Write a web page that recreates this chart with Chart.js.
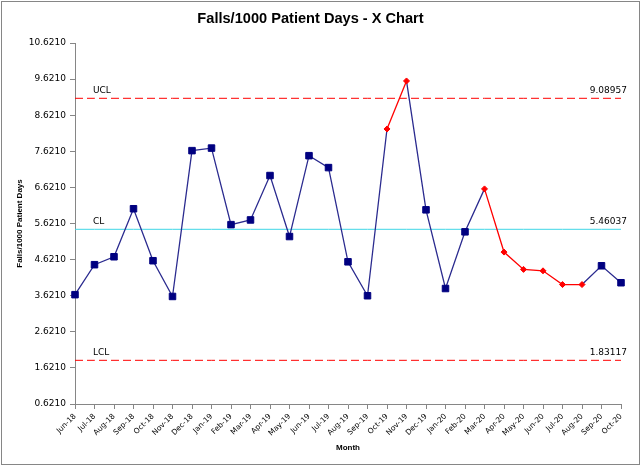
<!DOCTYPE html>
<html>
<head>
<meta charset="utf-8">
<script src="https://cdn.jsdelivr.net/npm/chart.js@4/dist/chart.umd.min.js"></script>
<style>
  html, body { margin: 0; padding: 0; background: #fff; }
  #wrap { width: 642px; height: 466px; position: relative; }
</style>
</head>
<body>
<div id="wrap"><canvas id="c" width="642" height="466"></canvas></div>
<script>
// ---- data ----
const months = ['Jun-18','Jul-18','Aug-18','Sep-18','Oct-18','Nov-18','Dec-18','Jan-19','Feb-19','Mar-19','Apr-19','May-19','Jun-19','Jul-19','Aug-19','Sep-19','Oct-19','Nov-19','Dec-19','Jan-20','Feb-20','Mar-20','Apr-20','May-20','Jun-20','Jul-20','Aug-20','Sep-20','Oct-20'];
const fallsRate = [3.65,4.48,4.70,6.03,4.59,3.60,7.64,7.71,5.59,5.72,6.95,5.26,7.50,7.17,4.56,3.62,8.24,9.57,6.00,3.82,5.39,6.58,4.83,4.35,4.31,3.93,3.93,4.45,3.98];
const signal = [0,0,0,0,0,0,0,0,0,0,0,0,0,0,0,0,1,1,0,0,0,1,1,1,1,1,1,0,0];
const ucl = 9.08957;
const cl = 5.46037;
const lcl = 1.83117;
const yTicks = [0.621,1.621,2.621,3.621,4.621,5.621,6.621,7.621,8.621,9.621,10.621];
const limitNames = ['UCL','CL','LCL'];
const limitValues = [ucl, cl, lcl];

// ---- styles ----
const NAVY = '#000080';
const LINE_NAVY = '#2b2b8f';
const RED = '#ff0000';
const CYAN = '#3fd6e6';
const AXIS = '#868686';
const TICK_FONT = { family: 'DejaVu Sans', size: 9 };
const XTICK_FONT = { family: 'DejaVu Sans', size: 7.5 };

const bgPlugin = {
  id: 'bg',
  beforeDraw(chart) {
    const ctx = chart.ctx;
    ctx.save();
    ctx.fillStyle = '#fff';
    ctx.fillRect(0, 0, chart.width, chart.height);
    ctx.restore();
  },
  afterDraw(chart) {
    const ctx = chart.ctx;
    ctx.save();
    ctx.strokeStyle = '#868686';
    ctx.lineWidth = 1;
    ctx.strokeRect(1.5, 1.5, 638, 463);
    ctx.restore();
  }
};

const limitLabels = {
  id: 'limitLabels',
  afterDatasetsDraw(chart) {
    const ctx = chart.ctx;
    const y = chart.scales.y;
    const area = chart.chartArea;
    ctx.save();
    ctx.font = '9px "DejaVu Sans"';
    ctx.fillStyle = '#000';
    ctx.textBaseline = 'alphabetic';
    limitNames.forEach((name, i) => {
      const py = y.getPixelForValue(limitValues[i]);
      ctx.textAlign = 'left';
      ctx.fillText(name, area.left + 18, py - 5);
      ctx.textAlign = 'right';
      ctx.fillText(limitValues[i].toFixed(5), area.right + 6, py - 5);
    });
    ctx.restore();
  }
};

const flat = v => months.map(() => v);

new Chart(document.getElementById('c'), {
  type: 'line',
  data: {
    labels: months,
    datasets: [
      {
        label: 'Falls/1000 Patient Days',
        data: fallsRate,
        borderColor: LINE_NAVY,
        borderWidth: 1.3,
        tension: 0,
        pointStyle: signal.map(s => s ? 'rectRot' : 'rect'),
        pointRadius: signal.map(s => s ? 3 : 4.6),
        pointBackgroundColor: signal.map(s => s ? RED : NAVY),
        pointBorderColor: signal.map(s => s ? RED : NAVY),
        pointBorderWidth: 1,
        segment: {
          borderColor: c => (signal[c.p0DataIndex] && signal[c.p1DataIndex]) ? RED : LINE_NAVY
        },
        order: 0
      },
      {
        label: 'UCL', data: flat(ucl), borderColor: RED, borderWidth: 1,
        borderDash: [8, 4], pointRadius: 0, order: 1
      },
      {
        label: 'CL', data: flat(cl), borderColor: CYAN, borderWidth: 1,
        pointRadius: 0, order: 1
      },
      {
        label: 'LCL', data: flat(lcl), borderColor: RED, borderWidth: 1,
        borderDash: [8, 4], pointRadius: 0, order: 1
      }
    ]
  },
  options: {
    responsive: false,
    animation: false,
    events: [],
    layout: { padding: { left: 0, right: 21, top: 0, bottom: 0 } },
    plugins: {
      legend: { display: false },
      tooltip: { enabled: false },
      title: {
        display: true,
        text: 'Falls/1000 Patient Days - X Chart',
        color: '#000',
        font: { family: 'Liberation Sans', size: 14.6, weight: 'bold', lineHeight: 1.2 },
        padding: { top: 10.3, bottom: 15.2 }
      }
    },
    scales: {
      x: {
        type: 'category',
        offset: false,
        border: { display: true, color: AXIS, width: 1 },
        grid: { display: true, drawOnChartArea: false, drawTicks: true, tickLength: 5, color: AXIS },
        ticks: { color: '#000', font: XTICK_FONT, minRotation: 45, maxRotation: 45, autoSkip: false, padding: 3 },
        title: {
          display: true, text: 'Month', color: '#000',
          font: { family: 'Liberation Sans', size: 8, weight: 'bold', lineHeight: 1.2 },
          padding: { top: 0, bottom: 13.5 }
        },
        afterFit(s) { s.height = 62; }
      },
      y: {
        type: 'linear',
        min: 0.621,
        max: 10.621,
        border: { display: true, color: AXIS, width: 1 },
        grid: { display: true, drawOnChartArea: false, drawTicks: true, tickLength: 5, color: AXIS },
        afterBuildTicks(s) { s.ticks = yTicks.map(v => ({ value: v })); },
        ticks: {
          color: '#000', font: TICK_FONT, padding: 4,
          callback: v => Number(v).toFixed(4)
        },
        title: {
          display: true, text: 'Falls/1000 Patient Days', color: '#000',
          font: { family: 'Liberation Sans', size: 8, weight: 'bold', lineHeight: 1.2 },
          padding: { top: 15, bottom: 0 }
        },
        afterFit(s) { s.width = 75; }
      }
    }
  },
  plugins: [bgPlugin, limitLabels]
});
</script>
</body>
</html>
